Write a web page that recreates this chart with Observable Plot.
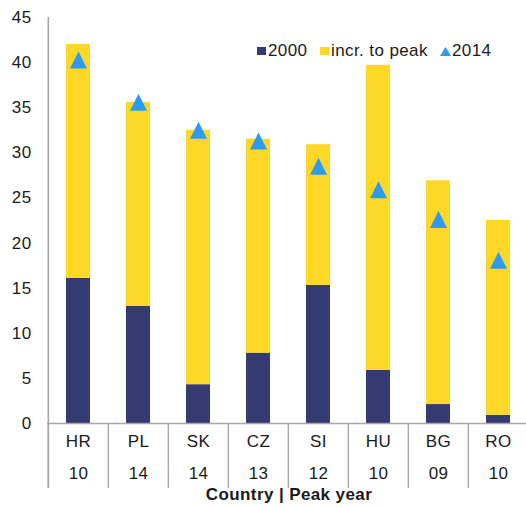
<!DOCTYPE html>
<html>
<head>
<meta charset="utf-8">
<script src="https://cdn.jsdelivr.net/npm/d3@7"></script>
<script src="https://cdn.jsdelivr.net/npm/@observablehq/plot@0.6"></script>
<style>
  html, body { margin: 0; padding: 0; background: #fff; }
  #chart { position: relative; width: 526px; height: 508px; overflow: hidden;
           font-family: 'Liberation Sans', Arial, sans-serif; color: #1a1a1a; }
  .lg { position: absolute; font-size: 17px; line-height: 17px; letter-spacing: 0.4px; white-space: nowrap; }
  .sw { position: absolute; width: 9px; height: 8px; }
</style>
</head>
<body>
<div id="chart"></div>
<script>
// ---- data ----
const countries  = ["HR", "PL", "SK", "CZ", "SI", "HU", "BG", "RO"];
const peakYears  = ["10", "14", "14", "13", "12", "10", "09", "10"];
const val2000    = [16.1, 13.0, 4.3, 7.8, 15.3, 5.9, 2.1, 0.9];
const incrToPeak = [25.9, 22.6, 28.2, 23.7, 15.6, 33.8, 24.8, 21.6];
const val2014    = [40.3, 35.6, 32.5, 31.3, 28.5, 25.9, 22.6, 18.1];
const yTicks     = [0, 5, 10, 15, 20, 25, 30, 35, 40, 45];
const seriesNames = ["2000", "incr. to peak", "2014"];
const axisTitle  = "Country | Peak year";

// ---- styles ----
const NAVY = "#353A70", YELLOW = "#FFD726", BLUE = "#2E9BF2", GRID = "#A6A6A6";

const stacked = [];
countries.forEach((c, i) => {
  stacked.push({country: c, series: seriesNames[0], value: val2000[i]});
  stacked.push({country: c, series: seriesNames[1], value: incrToPeak[i]});
});
const points = countries.map((c, i) => ({country: c, value: val2014[i], year: peakYears[i]}));

const xRange = [47, 529.4];
const step = (xRange[1] - xRange[0]) / countries.length;

const triangle = {
  draw(context, size) {
    const r = Math.sqrt(size / Math.PI);
    context.moveTo(0, -r);
    context.lineTo(r, r);
    context.lineTo(-r, r);
    context.closePath();
  }
};

const plot = Plot.plot({
  width: 526,
  height: 508,
  marginLeft: 47,
  marginRight: 0,
  marginTop: 17,
  marginBottom: 85,
  style: {fontFamily: "'Liberation Sans', Arial, sans-serif", fontSize: "17px", color: "#1a1a1a", letterSpacing: "0.4px", background: "white", overflow: "visible"},
  x: {type: "band", domain: countries, range: xRange, paddingInner: 0.6, paddingOuter: 0.3, axis: null},
  y: {domain: [0, 45], axis: null},
  color: {domain: seriesNames.slice(0, 2), range: [NAVY, YELLOW]},
  marks: [
    Plot.barY(stacked, {x: "country", y: "value", fill: "series", order: null}),
    Plot.ruleY([0], {stroke: GRID, strokeWidth: 1.4}),
    Plot.ruleX(countries, {x: d => d, dx: -step / 2, stroke: GRID, strokeWidth: 1.4, insetTop: 406, insetBottom: -65}),
    Plot.ruleX([countries[0]], {x: d => d, dx: -step / 2, stroke: GRID, strokeWidth: 1.6, insetBottom: -65}),
    Plot.axisY({ticks: yTicks, tickSize: 0, tickPadding: 16, label: null, fontSize: 17}),
    Plot.dot(points, {x: "country", y: "value", symbol: triangle, r: 8.5, fill: BLUE, stroke: null}),
    Plot.text(points, {x: "country", text: "country", frameAnchor: "bottom", dy: 23, fill: "#1a1a1a"}),
    Plot.text(points, {x: "country", text: "year", frameAnchor: "bottom", dy: 55, fill: "#1a1a1a"}),
    Plot.text([axisTitle], {text: d => d, frameAnchor: "bottom", dx: 2, dy: 76, fontWeight: "bold", fill: "#1a1a1a"})
  ]
});

const chart = document.getElementById("chart");
chart.appendChild(plot);

// ---- legend (HTML overlay) ----
function add(html) { chart.insertAdjacentHTML("beforeend", html); }
add(`<div class="sw" style="left:257px;top:47px;background:${NAVY}"></div>`);
add(`<div class="lg" style="left:268px;top:41.6px">${seriesNames[0]}</div>`);
add(`<div class="sw" style="left:320px;top:47px;background:${YELLOW}"></div>`);
add(`<div class="lg" style="left:331px;top:41.6px">${seriesNames[1]}</div>`);
add(`<svg style="position:absolute;left:440px;top:46.5px" width="11" height="9"><path d="M5.5,0L11,9L0,9Z" fill="${BLUE}"/></svg>`);
add(`<div class="lg" style="left:452px;top:41.6px">${seriesNames[2]}</div>`);
</script>
</body>
</html>
